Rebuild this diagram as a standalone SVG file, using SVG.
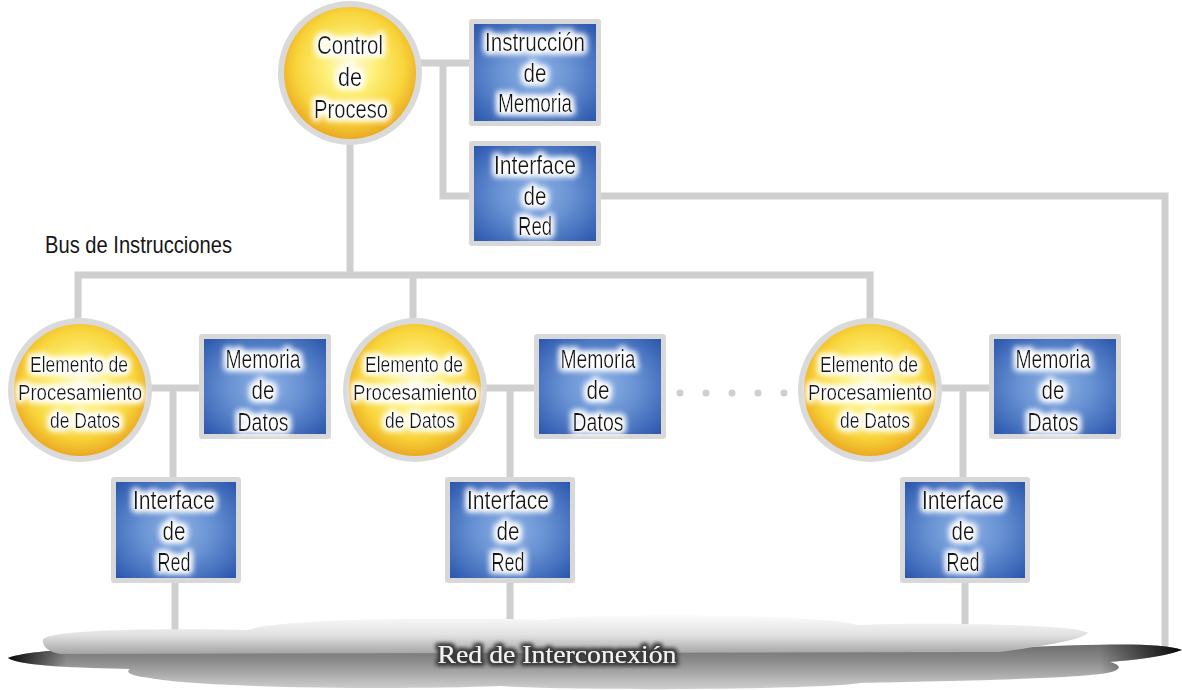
<svg xmlns="http://www.w3.org/2000/svg" width="1182" height="690" viewBox="0 0 1182 690">
<defs>
<style>
.wire{fill:none;stroke:#cfcfcf;stroke-width:7;stroke-linecap:square}
.frame{fill:#d8d8d8}
.blue{fill:url(#gBlue)}
.ring{fill:#dadada}
.yel{fill:url(#gYel)}
.lbl{font-family:"Liberation Sans",Arial,sans-serif;fill:#161616;text-anchor:middle}
.big{font-size:26px}
.mid{font-size:22.5px}
</style>
<radialGradient id="gBlue" cx="0.5" cy="0.5" r="0.7">
<stop offset="0" stop-color="#8fb3e6"/>
<stop offset="0.45" stop-color="#6690d2"/>
<stop offset="1" stop-color="#2b57ad"/>
</radialGradient>
<radialGradient id="gYel" cx="0.5" cy="0.45" r="0.55">
<stop offset="0" stop-color="#fffbe0"/>
<stop offset="0.35" stop-color="#fdf07a"/>
<stop offset="0.75" stop-color="#f8d43a"/>
<stop offset="1" stop-color="#eba923"/>
</radialGradient>
<linearGradient id="gTop" x1="0" y1="0" x2="0" y2="1">
<stop offset="0" stop-color="#fbfbfb"/>
<stop offset="0.5" stop-color="#e2e2e2"/>
<stop offset="1" stop-color="#a4a4a4"/>
</linearGradient>
<linearGradient id="gBot" x1="0" y1="0" x2="0" y2="1">
<stop offset="0" stop-color="#6e6e6e"/>
<stop offset="0.4" stop-color="#8e8e8e"/>
<stop offset="1" stop-color="#cfcfcf"/>
</linearGradient>
<linearGradient id="gEnds" x1="0" y1="0" x2="1" y2="0">
<stop offset="0" stop-color="#000" stop-opacity="0.95"/>
<stop offset="0.05" stop-color="#000" stop-opacity="0"/>
<stop offset="0.93" stop-color="#000" stop-opacity="0"/>
<stop offset="1" stop-color="#000" stop-opacity="0.95"/>
</linearGradient>
<filter id="glow" x="-20%" y="-30%" width="140%" height="160%">
<feMorphology in="SourceAlpha" operator="dilate" radius="2" result="d"/>
<feGaussianBlur in="d" stdDeviation="3" result="b"/>
<feFlood flood-color="#ffffff"/>
<feComposite in2="b" operator="in" result="g"/>
<feMerge><feMergeNode in="g"/><feMergeNode in="g"/><feMergeNode in="SourceGraphic"/></feMerge>
</filter>
<filter id="dglow" x="-10%" y="-40%" width="120%" height="180%">
<feMorphology in="SourceAlpha" operator="dilate" radius="2" result="d"/>
<feGaussianBlur in="d" stdDeviation="2" result="b"/>
<feFlood flood-color="#3a3a3a"/>
<feComposite in2="b" operator="in" result="g"/>
<feMerge><feMergeNode in="g"/><feMergeNode in="g"/><feMergeNode in="SourceGraphic"/></feMerge>
</filter>
</defs>
<rect width="1182" height="690" fill="#ffffff"/>

<g id="connectors">
<path class="wire" d="M420,63 H472 M443,63 V196 H472"/>
<path class="wire" d="M598,196 H1165 V645"/>
<path class="wire" d="M350,140 V275 M78,275 H870 M78,275 V320 M413,275 V320 M870,275 V320"/>
<path class="wire" d="M150,388 H202 M173,388 V480 M175,580 V630"/>
<path class="wire" d="M485,388 H537 M510,388 V480 M510,580 V630"/>
<path class="wire" d="M940,388 H992 M963,388 V480 M965,580 V630"/>
<path d="M680,393 H792" fill="none" stroke="#cfcfcf" stroke-width="7" stroke-linecap="round" stroke-dasharray="0 26"/>
</g>

<g id="control">
<circle class="ring" cx="350" cy="73" r="72"/>
<circle class="yel" cx="350" cy="73" r="66"/>
<g class="lbl big" filter="url(#glow)"><text x="350" y="54" textLength="66" lengthAdjust="spacingAndGlyphs">Control</text><text x="350" y="86" textLength="24" lengthAdjust="spacingAndGlyphs">de</text><text x="351" y="118" textLength="74" lengthAdjust="spacingAndGlyphs">Proceso</text></g>
</g>

<g id="instr-mem">
<rect class="frame" x="469" y="19" width="132" height="107" rx="3"/>
<rect class="blue" x="474" y="24" width="122" height="97"/>
<g class="lbl big" filter="url(#glow)"><text x="535" y="51" textLength="100" lengthAdjust="spacingAndGlyphs">Instrucción</text><text x="535" y="82" textLength="23" lengthAdjust="spacingAndGlyphs">de</text><text x="535" y="112" textLength="74" lengthAdjust="spacingAndGlyphs">Memoria</text></g>
</g>

<g id="net-ctrl">
<rect class="frame" x="469" y="141" width="132" height="105" rx="3"/>
<rect class="blue" x="474" y="146" width="122" height="95"/>
<g class="lbl big" filter="url(#glow)"><text x="535" y="174" textLength="82" lengthAdjust="spacingAndGlyphs">Interface</text><text x="535" y="205" textLength="23" lengthAdjust="spacingAndGlyphs">de</text><text x="535" y="235" textLength="34" lengthAdjust="spacingAndGlyphs">Red</text></g>
</g>

<g id="bus-label">
<text class="lbl" x="45" y="253" style="text-anchor:start;font-size:24px" textLength="187" lengthAdjust="spacingAndGlyphs">Bus de Instrucciones</text>
</g>

<g id="pe1">
<circle class="ring" cx="80" cy="390" r="72"/>
<circle class="yel" cx="80" cy="390" r="66"/>
<g class="lbl mid" filter="url(#glow)"><text x="79" y="372" textLength="98" lengthAdjust="spacingAndGlyphs">Elemento de</text><text x="80" y="400" textLength="124" lengthAdjust="spacingAndGlyphs">Procesamiento</text><text x="85" y="428" textLength="70" lengthAdjust="spacingAndGlyphs">de Datos</text></g>
</g>
<g id="mem1">
<rect class="frame" x="199" y="334" width="132" height="105" rx="3"/>
<rect class="blue" x="204" y="339" width="122" height="95"/>
<g class="lbl big" filter="url(#glow)"><text x="263" y="368" textLength="75" lengthAdjust="spacingAndGlyphs">Memoria</text><text x="263" y="399" textLength="23" lengthAdjust="spacingAndGlyphs">de</text><text x="263" y="431" textLength="51" lengthAdjust="spacingAndGlyphs">Datos</text></g>
</g>
<g id="ni1">
<rect class="frame" x="111" y="477" width="130" height="106" rx="3"/>
<rect class="blue" x="116" y="482" width="120" height="96"/>
<g class="lbl big" filter="url(#glow)"><text x="174" y="509" textLength="82" lengthAdjust="spacingAndGlyphs">Interface</text><text x="174" y="540" textLength="23" lengthAdjust="spacingAndGlyphs">de</text><text x="174" y="571" textLength="33" lengthAdjust="spacingAndGlyphs">Red</text></g>
</g>

<g id="pe2">
<circle class="ring" cx="415" cy="390" r="72"/>
<circle class="yel" cx="415" cy="390" r="66"/>
<g class="lbl mid" filter="url(#glow)"><text x="414" y="372" textLength="98" lengthAdjust="spacingAndGlyphs">Elemento de</text><text x="415" y="400" textLength="124" lengthAdjust="spacingAndGlyphs">Procesamiento</text><text x="420" y="428" textLength="70" lengthAdjust="spacingAndGlyphs">de Datos</text></g>
</g>
<g id="mem2">
<rect class="frame" x="534" y="334" width="132" height="105" rx="3"/>
<rect class="blue" x="539" y="339" width="122" height="95"/>
<g class="lbl big" filter="url(#glow)"><text x="598" y="368" textLength="75" lengthAdjust="spacingAndGlyphs">Memoria</text><text x="598" y="399" textLength="23" lengthAdjust="spacingAndGlyphs">de</text><text x="598" y="431" textLength="51" lengthAdjust="spacingAndGlyphs">Datos</text></g>
</g>
<g id="ni2">
<rect class="frame" x="445" y="477" width="130" height="106" rx="3"/>
<rect class="blue" x="450" y="482" width="120" height="96"/>
<g class="lbl big" filter="url(#glow)"><text x="508" y="509" textLength="82" lengthAdjust="spacingAndGlyphs">Interface</text><text x="508" y="540" textLength="23" lengthAdjust="spacingAndGlyphs">de</text><text x="508" y="571" textLength="33" lengthAdjust="spacingAndGlyphs">Red</text></g>
</g>

<g id="pe3">
<circle class="ring" cx="870" cy="390" r="72"/>
<circle class="yel" cx="870" cy="390" r="66"/>
<g class="lbl mid" filter="url(#glow)"><text x="869" y="372" textLength="98" lengthAdjust="spacingAndGlyphs">Elemento de</text><text x="870" y="400" textLength="124" lengthAdjust="spacingAndGlyphs">Procesamiento</text><text x="875" y="428" textLength="70" lengthAdjust="spacingAndGlyphs">de Datos</text></g>
</g>
<g id="mem3">
<rect class="frame" x="989" y="334" width="132" height="105" rx="3"/>
<rect class="blue" x="994" y="339" width="122" height="95"/>
<g class="lbl big" filter="url(#glow)"><text x="1053" y="368" textLength="75" lengthAdjust="spacingAndGlyphs">Memoria</text><text x="1053" y="399" textLength="23" lengthAdjust="spacingAndGlyphs">de</text><text x="1053" y="431" textLength="51" lengthAdjust="spacingAndGlyphs">Datos</text></g>
</g>
<g id="ni3">
<rect class="frame" x="900" y="477" width="130" height="106" rx="3"/>
<rect class="blue" x="905" y="482" width="120" height="96"/>
<g class="lbl big" filter="url(#glow)"><text x="963" y="509" textLength="82" lengthAdjust="spacingAndGlyphs">Interface</text><text x="963" y="540" textLength="23" lengthAdjust="spacingAndGlyphs">de</text><text x="963" y="571" textLength="33" lengthAdjust="spacingAndGlyphs">Red</text></g>
</g>

<g id="cloud">
<path d="M8,658 C30,650 80,648 150,650 L1000,648 C1100,644 1160,642 1182,650 C1160,658 1130,660 1110,662 C1125,666 1120,672 1100,674 C1050,680 900,682 860,683 C820,690 560,691 500,686 C400,690 200,688 150,678 C130,676 125,672 130,669 C80,668 20,666 8,658 Z" fill="url(#gBot)"/>
<path d="M8,658 C30,650 80,648 150,650 L1000,648 C1100,644 1160,642 1182,650 C1160,658 1130,660 1110,662 C1125,666 1120,672 1100,674 C1050,680 900,682 860,683 C820,690 560,691 500,686 C400,690 200,688 150,678 C130,676 125,672 130,669 C80,668 20,666 8,658 Z" fill="url(#gEnds)"/>
<path d="M43,640 C45,630 150,628 250,630 C262,621 420,616 545,620 C575,613 820,613 857,625 C920,622 1080,624 1088,633 C1080,640 1050,645 1000,652 L60,654 C48,652 42,646 43,640 Z" fill="url(#gTop)"/>
<text x="557" y="663" filter="url(#dglow)" textLength="239" lengthAdjust="spacingAndGlyphs" style="font-family:'Liberation Serif',serif;font-size:25px;fill:#f2f2f2;text-anchor:middle">Red de Interconexión</text>
</g>
</svg>
